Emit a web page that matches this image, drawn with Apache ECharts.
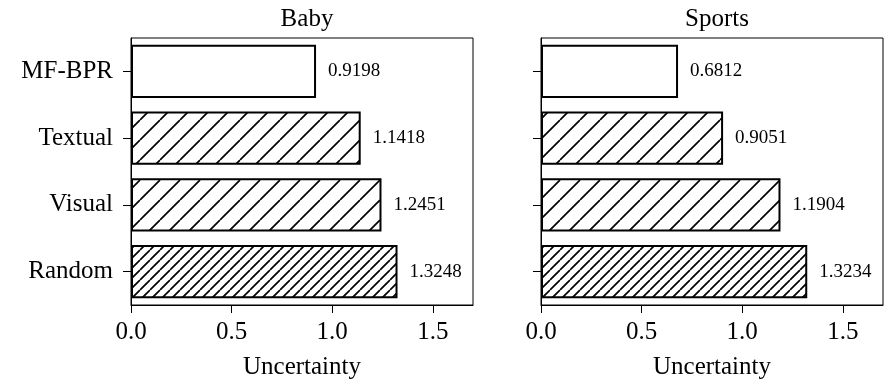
<!DOCTYPE html>
<html>
<head>
<meta charset="utf-8">
<script src="https://cdn.jsdelivr.net/npm/echarts@6/dist/echarts.min.js"></script>
<style>
html,body{margin:0;padding:0;background:#fff;}
#chart{width:891px;height:387px;}
</style>
</head>
<body>
<div id="chart"></div>
<script>
const categories = ['MF-BPR', 'Textual', 'Visual', 'Random'];
const babyValues = [0.9198, 1.1418, 1.2451, 1.3248];
const sportsValues = [0.6812, 0.9051, 1.1904, 1.3234];
const panelTitles = ['Baby', 'Sports'];
const xTicks = [0.0, 0.5, 1.0, 1.5];
const axisName = 'Uncertainty';

const FONT = '"Liberation Serif", "DejaVu Serif", serif';

function hatch(period) {
  const c = document.createElement('canvas');
  c.width = period; c.height = period;
  const g = c.getContext('2d');
  g.fillStyle = '#fff';
  g.fillRect(0, 0, period, period);
  g.strokeStyle = '#000';
  g.lineWidth = 1.7;
  g.beginPath();
  for (let k = -1; k <= 1; k++) {
    g.moveTo(k * period, period);
    g.lineTo(k * period + period, 0);
  }
  g.stroke();
  return { image: c, repeat: 'repeat' };
}
const fills = ['#ffffff', hatch(20), hatch(20), hatch(10)];

const chart = echarts.init(document.getElementById('chart'), null, { renderer: 'canvas' });

const grids = [
  { left: 131, top: 38, width: 342, height: 267 },
  { left: 541, top: 38, width: 342, height: 267 }
];

function makeData(vals) {
  return vals.map((v, i) => ({
    value: v,
    itemStyle: { color: fills[i], borderColor: '#000', borderWidth: 2 }
  }));
}

const option = {
  backgroundColor: '#fff',
  animation: false,
  title: panelTitles.map((t, i) => ({
    text: t,
    left: grids[i].left + grids[i].width / 2,
    top: 2,
    textAlign: 'center',
    textStyle: { fontFamily: FONT, fontSize: 25, fontWeight: 'normal', color: '#000' }
  })),
  grid: grids.map(g => Object.assign({ show: true, borderColor: '#000', borderWidth: 1, backgroundColor: 'transparent' }, g)),
  xAxis: grids.map((g, i) => ({
    type: 'value',
    gridIndex: i,
    min: 0,
    max: 1.7,
    interval: 0.5,
    name: axisName,
    nameLocation: 'middle',
    nameGap: 50,
    nameTextStyle: { fontFamily: FONT, fontSize: 25, color: '#000' },
    axisLine: { show: true, lineStyle: { color: '#000', width: 1 } },
    axisTick: { show: true, length: 8, lineStyle: { color: '#000', width: 1 } },
    axisLabel: {
      fontFamily: FONT, fontSize: 25, color: '#000', margin: 15,
      showMaxLabel: false,
      formatter: v => (xTicks.some(t => Math.abs(t - v) < 1e-9) ? v.toFixed(1) : '')
    },
    splitLine: { show: false }
  })),
  yAxis: grids.map((g, i) => ({
    type: 'category',
    gridIndex: i,
    data: categories,
    inverse: true,
    axisLine: { show: true, lineStyle: { color: '#000', width: 1 } },
    axisTick: { show: true, length: 8, alignWithLabel: true, lineStyle: { color: '#000', width: 1 } },
    axisLabel: { show: i === 0, fontFamily: FONT, fontSize: 25, color: '#000', margin: 18 },
    splitLine: { show: false }
  })),
  series: [babyValues, sportsValues].map((vals, i) => ({
    type: 'bar',
    xAxisIndex: i,
    yAxisIndex: i,
    barWidth: '80%',
    data: makeData(vals),
    label: {
      show: true,
      position: 'right',
      distance: 12,
      fontFamily: FONT,
      fontSize: 19,
      color: '#000',
      formatter: p => p.value.toFixed(4)
    }
  }))
};
chart.setOption(option);
</script>
</body>
</html>
